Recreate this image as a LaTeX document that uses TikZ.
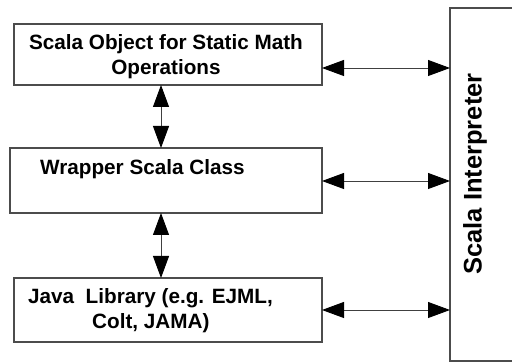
\documentclass[tikz,border=0pt]{standalone}
\usepackage{fontspec}
\setmainfont{Liberation Sans}
\usetikzlibrary{arrows.meta}
\begin{document}
\begin{tikzpicture}[x=1pt,y=-1pt,
  boxstyle/.style={draw=black!70,line width=1.1pt,fill=white},
  lbl/.style={font=\bfseries\fontsize{20.7}{25}\selectfont,inner sep=0pt,align=center},
  conn/.style={draw=black!75,line width=0.9pt,{Triangle[length=22pt,width=16pt,color=black]}-{Triangle[length=22pt,width=16pt,color=black]}}]
\useasboundingbox (0,0) rectangle (512,363);
\begin{scope}
\clip (0,0) rectangle (512,363);
\draw[boxstyle] (450,8) rectangle (530,361);
\end{scope}
\coordinate (I1) at (450,68);
\coordinate (I2) at (450,181);
\coordinate (I3) at (450,310);
\draw[boxstyle] (14,24) rectangle (322,85);
\draw[boxstyle] (10,148) rectangle (322,213);
\draw[boxstyle] (14,278) rectangle (322,342);
\coordinate (b1t) at (161,24); \coordinate (b1b) at (161,85);
\coordinate (b2t) at (161,148); \coordinate (b2b) at (161,213);
\coordinate (b3t) at (161,278);
\node[lbl] (t1) at (166,57) {Scala Object for Static Math\\Operations};
\node[lbl,anchor=base west] (t2) at (40,175) {Wrapper Scala Class};
\node[lbl,anchor=base west] (t3a) at (28,304) {Java\ \ Library (e.g. EJML,};
\node[lbl,anchor=base west] (t3b) at (92,329) {Colt, JAMA)};
\node[font=\bfseries\fontsize{25.5}{30}\selectfont,inner sep=0pt,rotate=90] (ti) at (475,174) {Scala Interpreter};
\coordinate (r1) at (322,68);
\coordinate (r2) at (322,181);
\coordinate (r3) at (322,310);
\draw[conn] (r1) -- (I1);
\draw[conn] (r2) -- (I2);
\draw[conn] (r3) -- (I3);
\draw[conn] (b1b) -- (b2t);
\draw[conn] (b2b) -- (b3t);
\end{tikzpicture}
\end{document}
